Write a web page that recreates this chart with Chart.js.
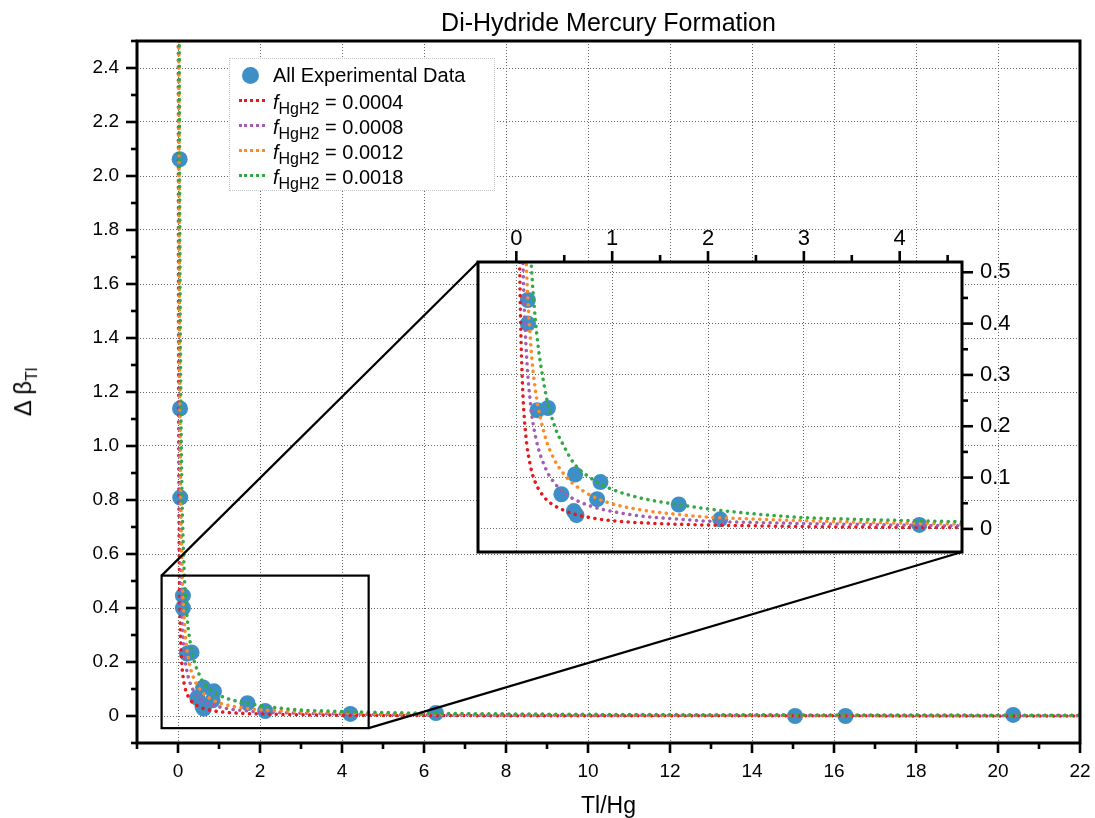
<!DOCTYPE html>
<html>
<head>
<meta charset="utf-8">
<script src="https://cdn.jsdelivr.net/npm/chart.js@4.4.1/dist/chart.umd.min.js"></script>
<style>
  body { margin: 0; background: #fff; font-family: 'Liberation Sans', Arial, sans-serif; }
  #wrap { position: relative; width: 1095px; height: 818px; }
  canvas { position: absolute; }
  #title, #xtitle { position: absolute; left: 137px; width: 943px; text-align: center; color: #000; }
  #title { top: 8px; font-size: 25px; line-height: 28px; }
  #xtitle { top: 791px; font-size: 23px; line-height: 28px; }
  #ytitle { position: absolute; left: 25px; top: 392px; font-size: 24px; white-space: nowrap;
            transform: translate(-50%, -50%) rotate(-90deg); }
  #ytitle sub { font-size: 16px; }
  #legend { position: absolute; left: 229px; top: 58px; width: 264px; height: 131px;
            background: #fff; border: 1px dotted #c4c4c4; font-size: 20px; }
  .row { position: absolute; left: 43px; height: 25px; line-height: 25px; white-space: nowrap; }
  .row sub { font-size: 16px; }
  .sample { position: absolute; left: 9px; width: 26px; height: 0; }
  .dot { position: absolute; left: 12px; top: 8px; width: 17px; height: 17px; border-radius: 50%; }
</style>
</head>
<body>
<div id="wrap">
  <canvas id="main" width="1095" height="818" style="left:0;top:0"></canvas>
  <canvas id="inset" width="552" height="334" style="left:470px;top:226px"></canvas>
  <div id="title">Di-Hydride Mercury Formation</div>
  <div id="xtitle">Tl/Hg</div>
  <div id="ytitle">Δ β<sub>Tl</sub></div>
  <div id="legend"></div>
</div>
<script>
/* ─── Data ───────────────────── */
const expX = [0.04, 0.05, 0.055, 0.12, 0.12, 0.22, 0.33, 0.47, 0.60, 0.613, 0.628, 0.843, 0.878,
              1.695, 2.127, 4.205, 6.29, 15.05, 16.28, 20.37];
const expY = [2.062, 1.139, 0.809, 0.446, 0.400, 0.231, 0.2355, 0.0675, 0.0347, 0.106, 0.027, 0.058, 0.0913,
              0.0475, 0.0186, 0.0077, 0.011, 0.0, 0.0, 0.004];

const curveX = [0.006, 0.01, 0.015, 0.02, 0.03, 0.04, 0.05, 0.07, 0.1, 0.15,
                0.2, 0.3, 0.4, 0.5, 0.6, 0.8, 1, 1.3, 1.7, 2,
                2.5, 3, 3.5, 4, 4.65, 6, 8, 10, 13, 16,
                19, 22];
const yRed    = [3.0, 1.8, 1.2, 0.9, 0.6, 0.45, 0.36, 0.257, 0.18, 0.12,
                 0.09, 0.06, 0.045, 0.036, 0.029, 0.021, 0.016, 0.012, 0.009, 0.0075,
                 0.006, 0.0045, 0.0037, 0.003, 0.0025, 0.0018, 0.0012, 0.0009, 0.0006, 0.0005,
                 0.0004, 0.0003];
const yPurple = [6.0, 3.6, 2.4, 1.8, 1.2, 0.9, 0.72, 0.514, 0.36, 0.24,
                 0.18, 0.12, 0.089, 0.07, 0.058, 0.043, 0.034, 0.025, 0.019, 0.015,
                 0.0125, 0.0105, 0.009, 0.0075, 0.006, 0.0042, 0.003, 0.0023, 0.0017, 0.0013,
                 0.0011, 0.001];
const yOrange = [9.0, 5.4, 3.6, 2.7, 1.8, 1.35, 1.08, 0.77, 0.54, 0.36,
                 0.27, 0.18, 0.134, 0.106, 0.087, 0.063, 0.049, 0.037, 0.028, 0.023,
                 0.019, 0.016, 0.0135, 0.0115, 0.0095, 0.0068, 0.005, 0.0038, 0.0028, 0.0022,
                 0.0018, 0.0015];
const yGreen  = [13.5, 8.1, 5.4, 4.0, 2.7, 2.02, 1.62, 1.16, 0.81, 0.54,
                 0.405, 0.27, 0.2, 0.16, 0.128, 0.096, 0.077, 0.06, 0.047, 0.039,
                 0.029, 0.022, 0.019, 0.0166, 0.014, 0.0105, 0.0078, 0.0062, 0.0048, 0.0039,
                 0.0033, 0.0028];

const curveLabels = ['0.0004', '0.0008', '0.0012', '0.0018'];
const curveColors = ['#e41a1c', '#a35db1', '#fd8b25', '#33a845'];
const pointColor = '#3d8fc6';

const xTicks = [0, 2, 4, 6, 8, 10, 12, 14, 16, 18, 20, 22];
const xTickLabels = ['0', '2', '4', '6', '8', '10', '12', '14', '16', '18', '20', '22'];
const xMinor = [-1, 1, 3, 5, 7, 9, 11, 13, 15, 17, 19, 21];
const yTicks = [0, 0.2, 0.4, 0.6, 0.8, 1.0, 1.2, 1.4, 1.6, 1.8, 2.0, 2.2, 2.4];
const yTickLabels = ['0', '0.2', '0.4', '0.6', '0.8', '1.0', '1.2', '1.4', '1.6', '1.8', '2.0', '2.2', '2.4'];
const yMinor = [-0.1, 0.1, 0.3, 0.5, 0.7, 0.9, 1.1, 1.3, 1.5, 1.7, 1.9, 2.1, 2.3, 2.5];

const insetXTicks = [0, 1, 2, 3, 4];
const insetXTickLabels = ['0', '1', '2', '3', '4'];
const insetXMinor = [0.5, 1.5, 2.5, 3.5, 4.5];
const insetYTicks = [0, 0.1, 0.2, 0.3, 0.4, 0.5];
const insetYTickLabels = ['0', '0.1', '0.2', '0.3', '0.4', '0.5'];
const insetYMinor = [0.05, 0.15, 0.25, 0.35, 0.45];

// zoomed window shown in the inset
const zoomX = [-0.4, 4.65];
const zoomY = [-0.045, 0.52];

/* ─── Shared defaults ───────────────────── */
Chart.defaults.font.family = "'Liberation Sans', Arial, sans-serif";
Chart.defaults.color = '#000';

function buildDatasets() {
  const curves = [yRed, yPurple, yOrange, yGreen].map((ys, i) => ({
    label: 'f = ' + curveLabels[i],
    data: curveX.map((x, j) => ({ x, y: ys[j] })),
    showLine: true,
    pointRadius: 0,
    borderColor: curveColors[i],
    borderWidth: 3.5,
    borderDash: [0.1, 6.6],
    borderCapStyle: 'round',
    cubicInterpolationMode: 'monotone',
    capBezierPoints: false,
    clip: 0,
    order: 4 - i
  }));
  const points = {
    label: 'All Experimental Data',
    data: expX.map((x, i) => ({ x, y: expY[i] })),
    showLine: false,
    pointRadius: 8,
    pointBackgroundColor: pointColor,
    pointBorderWidth: 0,
    order: 10
  };
  return [points, ...curves];
}

// fix an axis' thickness and drop the label-overflow padding Chart.js adds
const fixSize = (prop, size) => s => {
  s[prop] = size;
  s.paddingLeft = s.paddingRight = s.paddingTop = s.paddingBottom = 0;
};

/* ─── Frame + ticks drawn on top ───────────────────── */
const frame = {
  id: 'frame',
  beforeDraw(chart, args, opts) {
    if (!opts.fill) return;
    const a = chart.chartArea;
    chart.ctx.fillStyle = '#fff';
    chart.ctx.fillRect(a.left, a.top, a.right - a.left, a.bottom - a.top);
  },
  afterDraw(chart, args, opts) {
    const { ctx, chartArea: a } = chart;
    ctx.save();
    ctx.strokeStyle = '#000';
    ctx.lineWidth = 3;
    ctx.strokeRect(a.left, a.top, a.right - a.left, a.bottom - a.top);
    ctx.lineWidth = 2.6;
    opts.ticks.forEach(t => {
      const scale = chart.scales[t.axis];
      t.values.forEach(v => {
        const p = scale.getPixelForValue(v);
        ctx.beginPath();
        if (t.side === 'bottom') { ctx.moveTo(p, a.bottom); ctx.lineTo(p, a.bottom + t.len); }
        if (t.side === 'top')    { ctx.moveTo(p, a.top);    ctx.lineTo(p, a.top - t.len); }
        if (t.side === 'left')   { ctx.moveTo(a.left, p);   ctx.lineTo(a.left - t.len, p); }
        if (t.side === 'right')  { ctx.moveTo(a.right, p);  ctx.lineTo(a.right + t.len, p); }
        ctx.stroke();
      });
    });
    if (opts.after) opts.after(chart);
    ctx.restore();
  }
};

const gridStyle = { color: '#666', lineWidth: 1, drawTicks: false };
const borderStyle = { display: false, dash: [1, 2] };

/* ═══════════════════════════════════════════════
   Inset
═══════════════════════════════════════════════ */
const insetCanvas = document.getElementById('inset');
const inset = new Chart(insetCanvas, {
  type: 'scatter',
  data: { datasets: buildDatasets() },
  options: {
    responsive: false,
    animation: false,
    events: [],
    layout: { padding: { left: 8, bottom: 4, top: 0, right: 0 } },
    plugins: {
      legend: { display: false },
      tooltip: { enabled: false },
      frame: {
        fill: true,
        ticks: [
          { axis: 'x', side: 'top', len: 11, values: insetXTicks },
          { axis: 'x', side: 'top', len: 7, values: insetXMinor },
          { axis: 'y', side: 'right', len: 11, values: insetYTicks },
          { axis: 'y', side: 'right', len: 6, values: insetYMinor }
        ]
      }
    },
    scales: {
      x: {
        type: 'linear', position: 'top', min: zoomX[0], max: zoomX[1],
        afterBuildTicks: s => { s.ticks = insetXTicks.map(v => ({ value: v })); },
        afterFit: fixSize('height', 36),
        ticks: { autoSkip: false, maxRotation: 0, padding: 10, font: { size: 22 },
                 callback: (v, i) => insetXTickLabels[i] },
        grid: gridStyle, border: borderStyle
      },
      y: {
        type: 'linear', position: 'right', min: zoomY[0], max: zoomY[1],
        afterBuildTicks: s => { s.ticks = insetYTicks.map(v => ({ value: v })); },
        afterFit: fixSize('width', 60),
        ticks: { autoSkip: false, padding: 18, font: { size: 22 },
                 callback: (v, i) => insetYTickLabels[i] },
        grid: gridStyle, border: borderStyle
      }
    }
  },
  plugins: [frame]
});

/* ═══════════════════════════════════════════════
   Main chart
═══════════════════════════════════════════════ */
function drawZoomMarks(chart) {
  const { ctx, scales: { x, y } } = chart;
  const x0 = x.getPixelForValue(zoomX[0]), x1 = x.getPixelForValue(zoomX[1]);
  const y0 = y.getPixelForValue(zoomY[0]), y1 = y.getPixelForValue(zoomY[1]);
  const ia = inset.chartArea;
  const ox = insetCanvas.offsetLeft, oy = insetCanvas.offsetTop;
  ctx.lineWidth = 2.2;
  ctx.strokeRect(x0, y1, x1 - x0, y0 - y1);
  ctx.beginPath();
  ctx.moveTo(x0, y1); ctx.lineTo(ox + ia.left, oy + ia.top);
  ctx.moveTo(x1, y0); ctx.lineTo(ox + ia.right, oy + ia.bottom);
  ctx.stroke();
}

new Chart(document.getElementById('main'), {
  type: 'scatter',
  data: { datasets: buildDatasets() },
  options: {
    responsive: false,
    animation: false,
    events: [],
    layout: { padding: { left: 0, top: 41, right: 15, bottom: 0 } },
    plugins: {
      legend: { display: false },
      tooltip: { enabled: false },
      frame: {
        fill: false,
        after: drawZoomMarks,
        ticks: [
          { axis: 'x', side: 'bottom', len: 10, values: xTicks },
          { axis: 'x', side: 'bottom', len: 6, values: xMinor },
          { axis: 'y', side: 'left', len: 11, values: yTicks },
          { axis: 'y', side: 'left', len: 6, values: yMinor }
        ]
      }
    },
    scales: {
      x: {
        type: 'linear', min: -1, max: 22,
        afterBuildTicks: s => { s.ticks = xTicks.map(v => ({ value: v })); },
        afterFit: fixSize('height', 75),
        ticks: { autoSkip: false, maxRotation: 0, padding: 17, font: { size: 19 },
                 callback: (v, i) => xTickLabels[i] },
        grid: gridStyle, border: borderStyle
      },
      y: {
        type: 'linear', min: -0.1, max: 2.5,
        afterBuildTicks: s => { s.ticks = yTicks.map(v => ({ value: v })); },
        afterFit: fixSize('width', 137),
        ticks: { autoSkip: false, padding: 18, font: { size: 19 },
                 callback: (v, i) => yTickLabels[i] },
        grid: gridStyle, border: borderStyle
      }
    }
  },
  plugins: [frame]
});

/* ─── HTML legend (needs italics + subscripts) ───────────────────── */
const legend = document.getElementById('legend');
legend.innerHTML =
  `<span class="dot" style="background:${pointColor}"></span>` +
  `<div class="row" style="top:4px">All Experimental Data</div>` +
  curveLabels.map((lab, i) =>
    `<span class="sample" style="top:${40 + i * 25}px;border-top:3.5px dotted ${curveColors[i]}"></span>` +
    `<div class="row" style="top:${31 + i * 25}px"><i>f</i><sub>HgH2</sub> = ${lab}</div>`
  ).join('');
</script>
</body>
</html>
